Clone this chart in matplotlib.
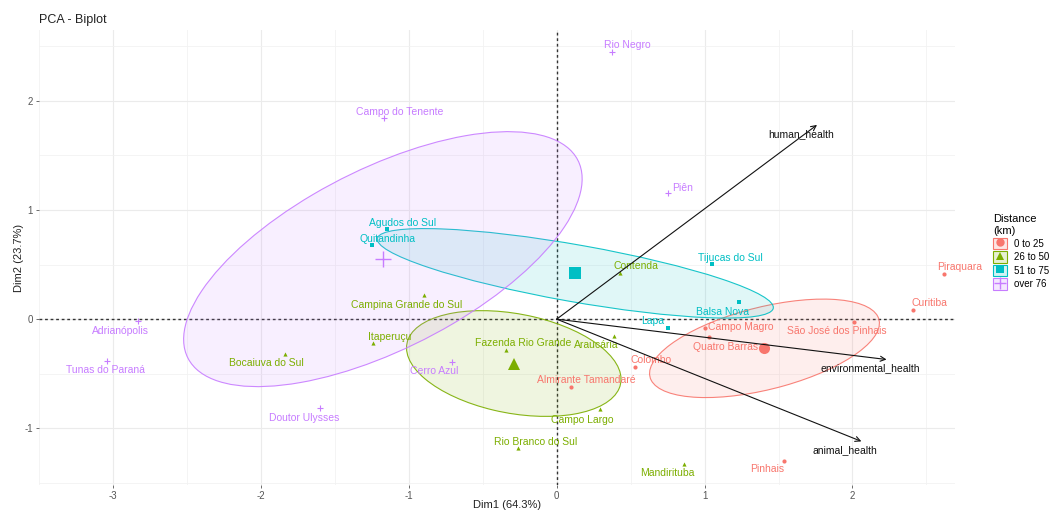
import numpy as np
import matplotlib
matplotlib.use("Agg")
import matplotlib.pyplot as plt
from matplotlib.colors import to_rgba
from matplotlib.patches import Ellipse, Patch
from matplotlib.lines import Line2D
from matplotlib.legend_handler import HandlerTuple

plt.rcParams['font.family'] = ['Liberation Sans', 'DejaVu Sans']
plt.rcParams['axes.unicode_minus'] = False

# Groups of municipalities by distance class
groups = ["0 to 25", "26 to 50", "51 to 75", "over 76"]
colors = ["#F8766D", "#7CAE00", "#00BFC4", "#C77CFF"]
markers = ["o", "^", "s", "+"]

red_names = ["Piraquara", "Curitiba", "São José dos Pinhais", "Campo Magro",
             "Quatro Barras", "Colombo", "Almirante Tamandaré", "Pinhais"]
red_dim1 = [2.62, 2.41, 2.01, 1.00, 1.03, 0.53, 0.10, 1.54]
red_dim2 = [0.41, 0.08, -0.03, -0.08, -0.16, -0.44, -0.62, -1.30]

green_names = ["Contenda", "Campina Grande do Sul", "Itaperuçu", "Bocaiuva do Sul",
               "Fazenda Rio Grande", "Araucária", "Campo Largo", "Rio Branco do Sul",
               "Mandirituba"]
green_dim1 = [0.43, -0.90, -1.24, -1.84, -0.34, 0.39, 0.29, -0.26, 0.86]
green_dim2 = [0.42, 0.22, -0.22, -0.32, -0.28, -0.15, -0.82, -1.18, -1.33]

teal_names = ["Agudos do Sul", "Quitandinha", "Tijucas do Sul", "Balsa Nova", "Lapa"]
teal_dim1 = [-1.15, -1.25, 1.05, 1.23, 0.75]
teal_dim2 = [0.83, 0.68, 0.51, 0.16, -0.08]

purple_names = ["Rio Negro", "Campo do Tenente", "Piên", "Adrianópolis",
                "Tunas do Paraná", "Doutor Ulysses", "Cerro Azul"]
purple_dim1 = [0.375, -1.17, 0.75, -2.83, -3.04, -1.60, -0.71]
purple_dim2 = [2.45, 1.84, 1.16, -0.02, -0.38, -0.81, -0.39]

# Variable loadings (arrows)
var_names = ["human_health", "environmental_health", "animal_health"]
var_dim1 = [1.76, 2.23, 2.06]
var_dim2 = [1.78, -0.37, -1.12]

# Label offsets in pixels (dx right, dy down)
red_off = [(15, -7), (16, -7), (-17, 9), (36, -1), (17, 10), (16, -7), (15, -7), (-17, 8)]
green_off = [(16, -7), (-17, 10), (16, -6), (-18, 9), (17, -7), (-18, 9), (-17, 11),
             (17, -6), (-17, 9)]
teal_off = [(16, -6), (16, -6), (18, -6), (-16, 10), (-15, -7)]
purple_off = [(15, -7), (16, -6), (15, -5), (-18, 10), (-2, 9), (-16, 10), (-17, 9)]

group_data = [
    (red_names, red_dim1, red_dim2, red_off),
    (green_names, green_dim1, green_dim2, green_off),
    (teal_names, teal_dim1, teal_dim2, teal_off),
    (purple_names, purple_dim1, purple_dim2, purple_off),
]

fig = plt.figure(figsize=(10.5, 5.12), dpi=100)
ax = fig.add_axes([39 / 1050, 1 - 485 / 512, (955 - 39) / 1050, (485 - 30) / 512])

ax.set_xlim(-3.353, 2.693)
ax.set_ylim(-1.52, 2.65)

# minimal theme grid
ax.set_xticks([-3, -2, -1, 0, 1, 2])
ax.set_yticks([-1, 0, 1, 2])
ax.set_xticks(np.arange(-3.5, 3.0, 0.5), minor=True)
ax.set_yticks(np.arange(-1.5, 3.0, 0.5), minor=True)
ax.grid(True, which="major", color="#EBEBEB", linewidth=0.8, zorder=0)
ax.grid(True, which="minor", color="#F2F2F2", linewidth=0.6, zorder=0)
for s in ax.spines.values():
    s.set_visible(False)
ax.tick_params(which="major", length=2.5, width=0.6, color="#555555",
               labelsize=7, labelcolor="#555555", pad=2)
ax.tick_params(which="minor", length=0)
ax.set_axisbelow(True)

ax.axhline(0, color="#333333", linestyle=(0, (2.0, 2.0)), linewidth=1.0, zorder=1)
ax.axvline(0, color="#333333", linestyle=(0, (2.0, 2.0)), linewidth=1.0, zorder=1)

chi_r = np.sqrt(-2 * np.log(0.05))

for (names, d1, d2, offs), col, mk in zip(group_data, colors, markers):
    x = np.asarray(d1)
    y = np.asarray(d2)
    n = len(x)
    cov = np.cov(x, y) / n
    vals, vecs = np.linalg.eigh(cov)
    order = vals.argsort()[::-1]
    vals, vecs = vals[order], vecs[:, order]
    angle = np.degrees(np.arctan2(vecs[1, 0], vecs[0, 0]))
    w, h = 2 * chi_r * np.sqrt(vals)
    cx, cy = x.mean(), y.mean()
    ax.add_patch(Ellipse((cx, cy), w, h, angle=angle, facecolor=col, alpha=0.12,
                         edgecolor="none", zorder=2))
    ax.add_patch(Ellipse((cx, cy), w, h, angle=angle, facecolor="none",
                         edgecolor=col, linewidth=0.8, alpha=0.9, zorder=2))
    if mk == "+":
        ax.plot(x, y, linestyle="none", marker=mk, color=col, ms=5, mew=0.8, zorder=4)
        ax.plot([cx], [cy], linestyle="none", marker=mk, color=col, ms=11, mew=1.0, zorder=4)
    else:
        ax.plot(x, y, linestyle="none", marker=mk, color=col, ms=3, mew=0, zorder=4)
        ax.plot([cx], [cy], linestyle="none", marker=mk, color=col, ms=8, mew=0, zorder=4)
    for nm, xi, yi, (dx, dy) in zip(names, x, y, offs):
        ax.annotate(nm, (xi, yi), xytext=(dx * 0.72, -dy * 0.72),
                    textcoords="offset points", ha="center", va="center",
                    fontsize=7.5, color=col, zorder=5)

for nm, vx, vy in zip(var_names, var_dim1, var_dim2):
    ax.annotate("", xy=(vx, vy), xytext=(0, 0),
                arrowprops=dict(arrowstyle="->", color="#111111", lw=0.8,
                                shrinkA=0, shrinkB=0, mutation_scale=9), zorder=6)
    ax.annotate(nm, (vx, vy), xytext=(-16 * 0.72, -9 * 0.72), textcoords="offset points",
                ha="center", va="center", fontsize=7.5, color="#111111", zorder=6)

fig.text(507 / 1050, 1 - 505 / 512, "Dim1 (64.3%)", fontsize=8, color="#222222",
         ha="center", va="center")
fig.text(19 / 1050, 1 - 258 / 512, "Dim2 (23.7%)", fontsize=8, color="#222222",
         ha="center", va="center", rotation=90)
fig.text(39 / 1050, 1 - 20 / 512, "PCA - Biplot", fontsize=9, color="#222222",
         ha="left", va="center")

handles = []
for col, mk in zip(colors, markers):
    box = Patch(facecolor=to_rgba(col, 0.18), edgecolor=col, linewidth=0.8)
    if mk == "+":
        m = Line2D([], [], linestyle="none", marker=mk, color=col, ms=9, mew=1.0)
    else:
        m = Line2D([], [], linestyle="none", marker=mk, color=col, ms=6, mew=0)
    handles.append((box, m))

leg = fig.legend(handles, groups, title="Distance\n(km)", loc="upper left",
                 bbox_to_anchor=(993 / 1050, 1 - 214 / 512), frameon=False,
                 handler_map={tuple: HandlerTuple(ndivide=1, pad=0)},
                 handlelength=1.45, handleheight=1.45, handletextpad=0.7,
                 labelspacing=0.2, fontsize=7, title_fontsize=8,
                 alignment="left", borderaxespad=0, borderpad=0)

fig.savefig("out.png", dpi=100, facecolor="white")
